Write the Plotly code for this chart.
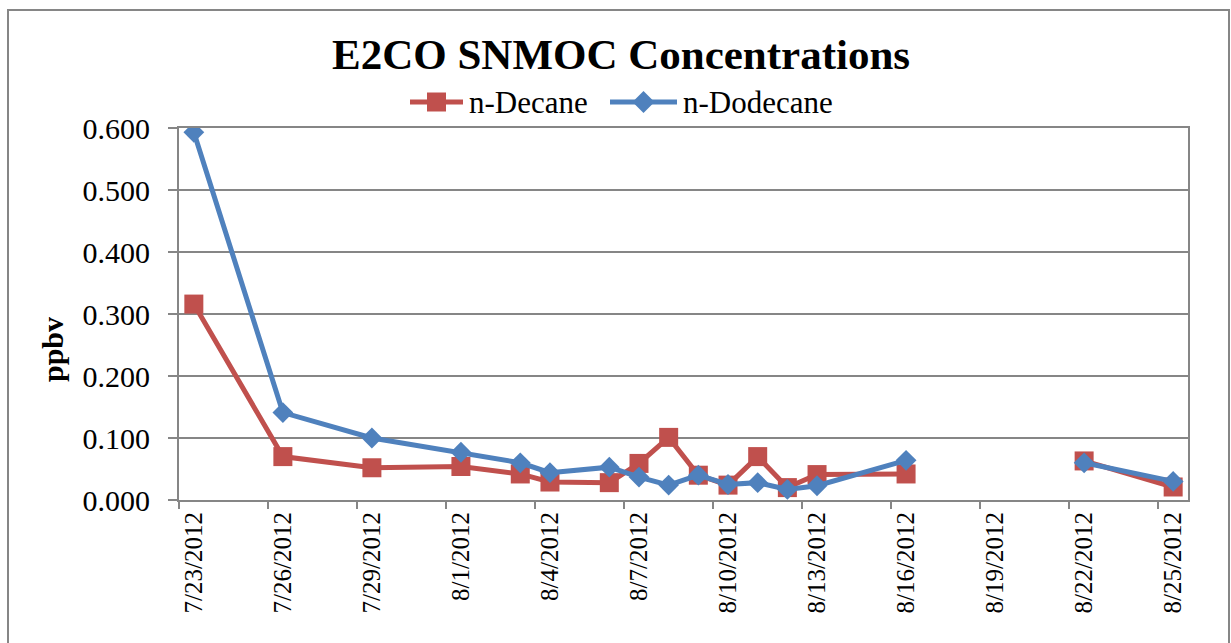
import plotly.graph_objects as go

# sample dates (blank row on 8/19 gives the gap in the lines)
dates = ["2012-07-23", "2012-07-26", "2012-07-29", "2012-08-01", "2012-08-03",
         "2012-08-04", "2012-08-06", "2012-08-07", "2012-08-08", "2012-08-09",
         "2012-08-10", "2012-08-11", "2012-08-12", "2012-08-13", "2012-08-16",
         "2012-08-19", "2012-08-22", "2012-08-25"]
decane = [0.316, 0.070, 0.052, 0.054, 0.042, 0.029, 0.028, 0.059, 0.101, 0.040,
          0.024, 0.070, 0.020, 0.041, 0.042, None, 0.063, 0.021]
dodecane = [0.593, 0.141, 0.100, 0.077, 0.060, 0.044, 0.053, 0.037, 0.024, 0.040,
            0.025, 0.028, 0.017, 0.023, 0.064, None, 0.060, 0.030]

tick_dates = ["2012-07-23", "2012-07-26", "2012-07-29", "2012-08-01", "2012-08-04",
              "2012-08-07", "2012-08-10", "2012-08-13", "2012-08-16", "2012-08-19",
              "2012-08-22", "2012-08-25"]
tick_labels = ["7/23/2012", "7/26/2012", "7/29/2012", "8/1/2012", "8/4/2012",
               "8/7/2012", "8/10/2012", "8/13/2012", "8/16/2012", "8/19/2012",
               "8/22/2012", "8/25/2012"]
y_ticks = [0.0, 0.1, 0.2, 0.3, 0.4, 0.5, 0.6]

serif = "Liberation Serif, Times New Roman, serif"
grey = "#868686"
red = "#C0504D"
blue = "#4F81BD"

# plot area in pixels: x 179..1188, y 128..500
def px(x):
    return (x - 179) / 1009.0

def py(y):
    return (500 - y) / 372.0

fig = go.Figure()
fig.add_trace(go.Scatter(x=dates, y=decane, name="n-Decane", mode="lines+markers",
                         line=dict(color=red, width=5),
                         marker=dict(symbol="square", size=19, color=red)))
fig.add_trace(go.Scatter(x=dates, y=dodecane, name="n-Dodecane", mode="lines+markers",
                         line=dict(color=blue, width=5),
                         marker=dict(symbol="diamond", size=16, color=blue)))

fig.update_layout(
    width=1231, height=643,
    margin=dict(l=179, r=43, t=128, b=143),
    paper_bgcolor="white", plot_bgcolor="white",
    font=dict(family=serif, color="black"),
    title=dict(text="E2CO SNMOC Concentrations", x=0.5045, xref="container",
               y=1 - 54 / 643, yref="container", xanchor="center", yanchor="middle",
               font=dict(size=43, weight="bold", family=serif)),
    showlegend=False,
)

fig.update_xaxes(
    type="date", range=["2012-07-22 12:00", "2012-08-25 12:00"],
    tickmode="array", tickvals=tick_dates, ticktext=tick_labels,
    tickangle=-90, tickfont=dict(size=25, family=serif),
    ticks="", showgrid=False, zeroline=False,
    showline=True, linecolor=grey, linewidth=2, mirror=True,
    minor=dict(tick0="2012-07-22 12:00", dtick=3 * 86400000, ticks="outside",
               ticklen=7, tickcolor=grey, tickwidth=2, showgrid=False),
)
fig.update_yaxes(
    range=[0, 0.6], tickmode="array", tickvals=y_ticks, tickformat=".3f",
    tickfont=dict(size=30, family=serif), ticks="outside", ticklen=9,
    tickcolor=grey, tickwidth=2, ticklabelstandoff=12,
    showgrid=True, gridcolor=grey, gridwidth=2, zeroline=False,
    showline=True, linecolor=grey, linewidth=2, mirror=True,
)

fig.add_annotation(text="<b>ppbv</b>", x=px(52), y=py(350), xref="paper", yref="paper",
                   xanchor="center", yanchor="middle",
                   textangle=-90, showarrow=False, font=dict(size=30, family=serif))

# Excel-style legend: long line with marker in the middle, then the name
ly = 102
legend_items = [("n-Decane", red, "square", 410, 463, 467),
                ("n-Dodecane", blue, "diamond", 610, 677, 681)]
for name, col, sym, x0, x1, xt in legend_items:
    fig.add_shape(type="line", xref="paper", yref="paper", x0=px(x0), x1=px(x1),
                  y0=py(ly), y1=py(ly), line=dict(color=col, width=5))
    cx = (x0 + x1) / 2
    if sym == "square":
        fig.add_shape(type="rect", xref="paper", yref="paper",
                      x0=px(cx - 9.5), x1=px(cx + 9.5), y0=py(ly + 9.5), y1=py(ly - 9.5),
                      fillcolor=col, line=dict(width=0))
    else:
        h = 11
        path = "M {},{} L {},{} L {},{} L {},{} Z".format(
            px(cx), py(ly - h), px(cx + h), py(ly), px(cx), py(ly + h), px(cx - h), py(ly))
        fig.add_shape(type="path", xref="paper", yref="paper", path=path,
                      fillcolor=col, line=dict(width=0))
    fig.add_annotation(text=name, x=px(xt), y=py(ly), xref="paper", yref="paper",
                       xanchor="left", yanchor="middle", showarrow=False,
                       font=dict(size=31, family=serif))

# outer chart frame
fig.add_shape(type="rect", xref="paper", yref="paper", x0=px(8), x1=px(1229),
              y0=py(700), y1=py(10), line=dict(color=grey, width=2), layer="below")

fig.write_html("out.html", config={"displayModeBar": False},
               post_script="document.body.style.margin='0';")
